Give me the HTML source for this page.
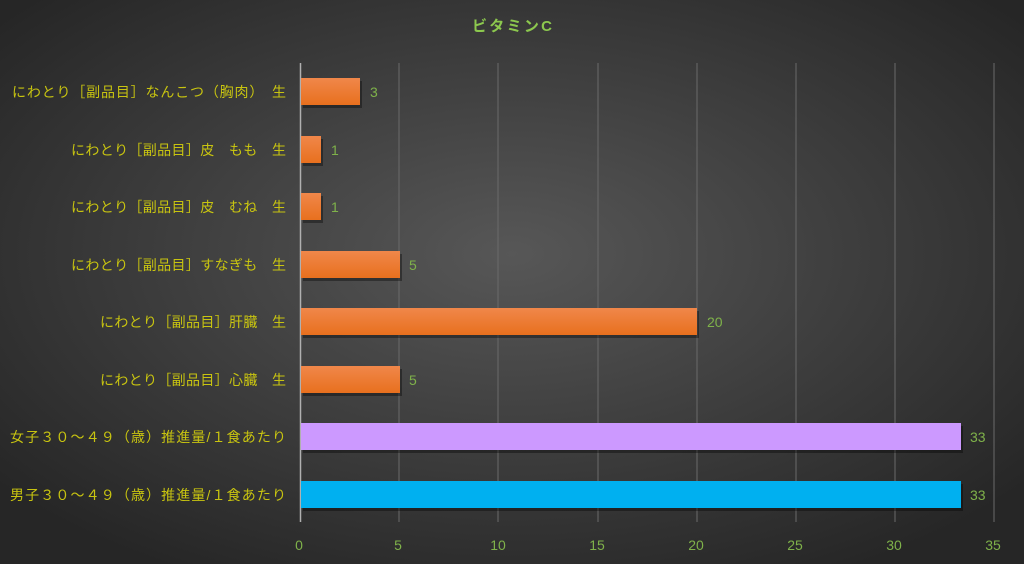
<!DOCTYPE html>
<html><head><meta charset="utf-8"><style>
body{margin:0;}
svg{display:block;font-family:"Liberation Sans","Noto Sans CJK JP",sans-serif;}
</style></head><body>
<svg width="1024" height="564" xmlns="http://www.w3.org/2000/svg">
<defs>
<radialGradient id="bg" cx="50%" cy="45%" r="65%">
<stop offset="0" stop-color="#575757"/><stop offset="1" stop-color="#262626"/>
</radialGradient>
<linearGradient id="or" x1="0" y1="0" x2="0" y2="1">
<stop offset="0" stop-color="#f0874a"/><stop offset="1" stop-color="#e8701e"/>
</linearGradient>
</defs>
<rect width="1024" height="564" fill="url(#bg)"/>
<text x="512" y="31" text-anchor="middle" font-size="15" font-weight="bold" fill="#8cc84e" textLength="80" lengthAdjust="spacing">ビタミンC</text>
<g stroke="#6a6a6a" stroke-width="1">
<line x1="399" y1="63" x2="399" y2="522"/><line x1="498" y1="63" x2="498" y2="522"/>
<line x1="598" y1="63" x2="598" y2="522"/><line x1="697" y1="63" x2="697" y2="522"/>
<line x1="796" y1="63" x2="796" y2="522"/><line x1="895" y1="63" x2="895" y2="522"/>
<line x1="994" y1="63" x2="994" y2="522"/>
</g>
<line x1="300.5" y1="63" x2="300.5" y2="522" stroke="#b0b0b0" stroke-width="1.5"/>
<g fill="#000" opacity="0.35">
<rect x="303" y="81" width="59" height="27"/><rect x="303" y="139" width="20" height="27"/>
<rect x="303" y="196" width="20" height="27"/><rect x="303" y="254" width="99" height="27"/>
<rect x="303" y="311" width="396" height="27"/><rect x="303" y="369" width="99" height="27"/>
<rect x="303" y="426" width="660" height="27"/><rect x="303" y="484" width="660" height="27"/>
</g>
<g fill="url(#or)">
<rect x="301" y="78" width="59" height="27"/><rect x="301" y="136" width="20" height="27"/>
<rect x="301" y="193" width="20" height="27"/><rect x="301" y="251" width="99" height="27"/>
<rect x="301" y="308" width="396" height="27"/><rect x="301" y="366" width="99" height="27"/>
</g>
<rect x="301" y="423" width="660" height="27" fill="#cc99ff"/>
<rect x="301" y="481" width="660" height="27" fill="#00b0f0"/>
<g font-size="14" fill="#7fb24a">
<text x="370" y="97">3</text><text x="331" y="155">1</text><text x="331" y="212">1</text>
<text x="409" y="270">5</text><text x="707" y="327">20</text><text x="409" y="385">5</text>
<text x="970" y="442">33</text><text x="970" y="500">33</text>
</g>
<g font-size="14" fill="#c8c410" lengthAdjust="spacing">
<text x="12" y="97" textLength="274">にわとり［副品目］なんこつ（胸肉）　生</text>
<text x="71" y="155" textLength="215">にわとり［副品目］皮　もも　生</text>
<text x="71" y="212" textLength="215">にわとり［副品目］皮　むね　生</text>
<text x="71" y="270" textLength="215">にわとり［副品目］すなぎも　生</text>
<text x="100" y="327" textLength="186">にわとり［副品目］肝臓　生</text>
<text x="100" y="385" textLength="186">にわとり［副品目］心臓　生</text>
<text x="10" y="442" textLength="276">女子３０～４９（歳）推進量/１食あたり</text>
<text x="10" y="500" textLength="276">男子３０～４９（歳）推進量/１食あたり</text>
</g>
<g font-size="14" fill="#7fb24a" text-anchor="middle">
<text x="299" y="550">0</text><text x="398" y="550">5</text><text x="498" y="550">10</text>
<text x="597" y="550">15</text><text x="696" y="550">20</text><text x="795" y="550">25</text>
<text x="894" y="550">30</text><text x="993" y="550">35</text>
</g>
</svg>
</body></html>
